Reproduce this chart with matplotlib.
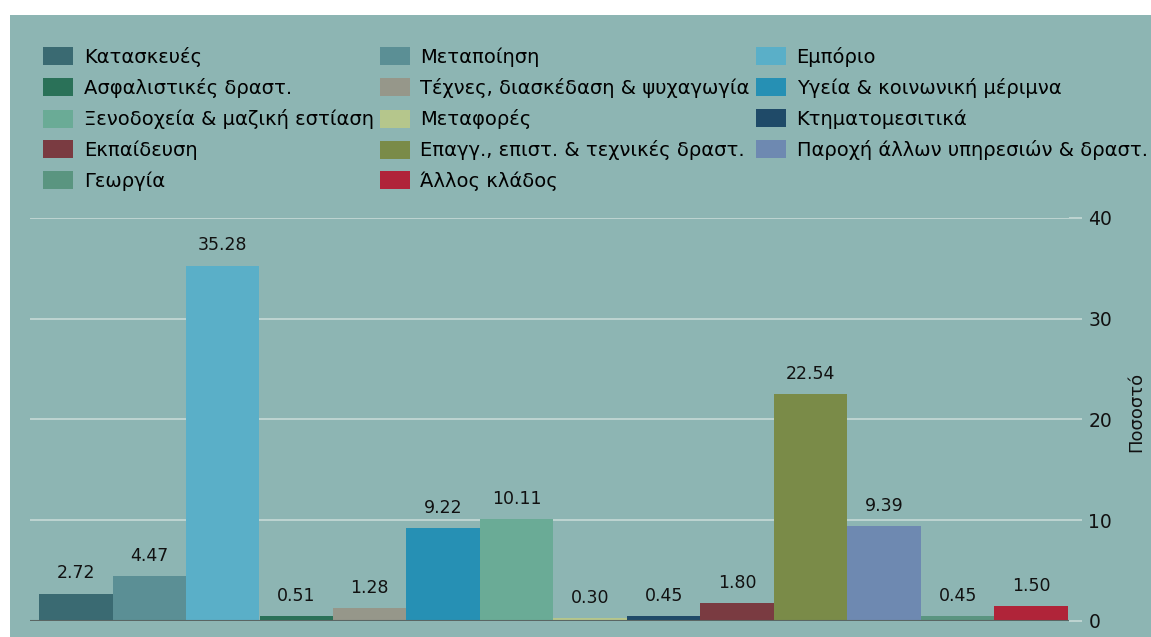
import matplotlib.pyplot as plt
from matplotlib.patches import Rectangle

# κλάδοι με τη σειρά των ράβδων
klados = ['Κατασκευές', 'Μεταποίηση', 'Εμπόριο',
          'Ασφαλιστικές δραστ.', 'Τέχνες, διασκέδαση & ψυχαγωγία', 'Υγεία & κοινωνική μέριμνα',
          'Ξενοδοχεία & μαζική εστίαση', 'Μεταφορές', 'Κτηματομεσιτικά',
          'Εκπαίδευση', 'Επαγγ., επιστ. & τεχνικές δραστ.', 'Παροχή άλλων υπηρεσιών & δραστ.',
          'Γεωργία', 'Άλλος κλάδος']
pososto = [2.72, 4.47, 35.28, 0.51, 1.28, 9.22, 10.11, 0.30, 0.45, 1.80, 22.54, 9.39, 0.45, 1.50]
xromata = ['#3a6a72', '#5b8f95', '#5aafc8', '#2a7158', '#96978a', '#2690b4', '#6aab96',
           '#b5c68c', '#1f4a68', '#7a3b41', '#7a8b48', '#6e89b1', '#5a9580', '#b02439']
y_ticks = [0, 10, 20, 30, 40]

BG = '#8db5b3'
GRID = '#c6dad7'

W, H = 1151, 637
fig = plt.figure(figsize=(W / 100, H / 100), dpi=100, facecolor='white')
# φόντο (λευκό περιθώριο πάνω και αριστερά)
fig.patches.append(Rectangle((10 / W, 0), 1 - 10 / W, (H - 15) / H,
                             transform=fig.transFigure, facecolor=BG, edgecolor='none', zorder=-5))

ax = fig.add_axes([30 / W, (H - 621) / H, (1069 - 30) / W, (621 - 218) / H])
ax.patch.set_alpha(0)

x = range(len(pososto))
bars = ax.bar(x, pososto, width=1.0, color=xromata, edgecolor='none', zorder=3)

for b, v in zip(bars, pososto):
    ax.annotate(f'{v:.2f}', (b.get_x() + b.get_width() / 2, v), xytext=(0, 8),
                textcoords='offset points', ha='center', va='bottom', fontsize=12.5, color='#111111')

ax.set_xlim(-0.5 - 9 / 73.5, 13.5 + 1 / 73.5)
ax.set_ylim(0, 40)
ax.set_xticks([])
ax.yaxis.tick_right()
ax.yaxis.set_label_position('right')
ax.set_yticks(y_ticks)
ax.tick_params(axis='y', length=9, width=1.2, color=GRID, labelsize=13.5, pad=5, labelcolor='#111111')
ax.yaxis.get_major_ticks()[0].tick2line.set_color('#5a6664')
ax.set_ylabel('Ποσοστό', fontsize=13, color='#111111')
ax.yaxis.set_label_coords(1.056, 0.52)
for s in ax.spines.values():
    s.set_visible(False)
for t in y_ticks[1:]:
    ax.axhline(t, color=GRID, lw=1.2, zorder=1)
ax.axhline(0, color='#5a6664', lw=1.5, zorder=4)

# υπόμνημα σε τρεις στήλες, γραμμή προς γραμμή
order = [0, 3, 6, 9, 12, 1, 4, 7, 10, 13, 2, 5, 8, 11]
handles = [Rectangle((0, 0), 1, 1, facecolor=xromata[i], edgecolor='none') for i in order]
labels = [klados[i] for i in order]
fig.legend(handles, labels, ncol=3, loc='upper left', bbox_to_anchor=(43 / W, 1 - 47 / H),
           frameon=False, fontsize=14, handlelength=1.55, handleheight=1.05, handletextpad=0.55,
           labelspacing=0.57, columnspacing=0.3, borderpad=0, borderaxespad=0)

fig.savefig('out.png', dpi=100, facecolor=fig.get_facecolor())
